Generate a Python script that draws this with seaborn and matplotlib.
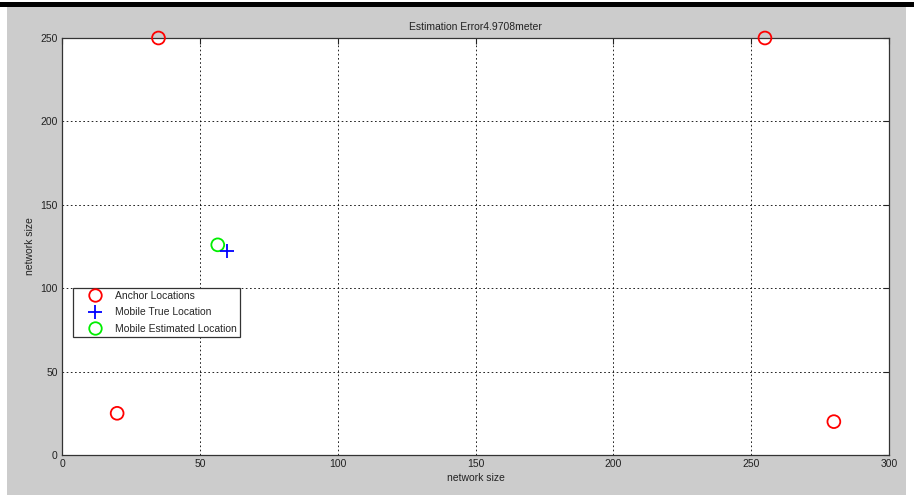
import numpy as np
import pandas as pd
import matplotlib
matplotlib.use("Agg")
import matplotlib.pyplot as plt
from matplotlib.lines import Line2D
from matplotlib.patches import Rectangle
import seaborn as sns

# Anchor node positions
anchor_x = [35, 255, 20, 280]
anchor_y = [250, 250, 25, 20]
# Mobile node: true and estimated positions
true_x = [60]
true_y = [122.5]
est_x = [56.5]
est_y = [126]
estimation_error = 4.9708

x_ticks = [0, 50, 100, 150, 200, 250, 300]
y_ticks = [0, 50, 100, 150, 200, 250]

sns.set_theme(style="white")
plt.rcParams['font.family'] = ['Liberation Sans', 'DejaVu Sans']

fig = plt.figure(figsize=(9.14, 4.95), dpi=100, facecolor="white")
W, H = 914, 495
# grey window background and dark strip across the top
fig.patches.append(Rectangle((7 / W, 0), 899 / W, (495 - 7) / H,
                             transform=fig.transFigure, facecolor="#cccccc",
                             edgecolor="none", zorder=-10))
fig.patches.append(Rectangle((0, (495 - 7) / H), 1, 5 / H,
                             transform=fig.transFigure, facecolor="black",
                             edgecolor="none", zorder=-10))

ax = fig.add_axes([62 / W, (495 - 455) / H, (889 - 62) / W, (455 - 38) / H])
ax.set_facecolor("white")

anchors = pd.DataFrame({"x": anchor_x, "y": anchor_y})
truth = pd.DataFrame({"x": true_x, "y": true_y})
est = pd.DataFrame({"x": est_x, "y": est_y})

sns.scatterplot(data=anchors, x="x", y="y", ax=ax, marker="o", s=85,
                facecolors="none", edgecolor="#ff0000", linewidth=1.3,
                clip_on=False, zorder=5)
sns.scatterplot(data=truth, x="x", y="y", ax=ax, marker="+", s=110,
                color="#0000ff", linewidth=1.3, clip_on=False, zorder=5)
sns.scatterplot(data=est, x="x", y="y", ax=ax, marker="o", s=85,
                facecolors="none", edgecolor="#00ee00", linewidth=1.3,
                clip_on=False, zorder=4)

ax.set_xlim(0, 300)
ax.set_ylim(0, 250)
ax.set_xticks(x_ticks)
ax.set_yticks(y_ticks)
ax.grid(True, color="black", linestyle=(0, (2, 3)), linewidth=0.6)
ax.tick_params(direction="in", length=4, width=0.8, labelsize=7.5,
               colors="#222222", top=True, right=True, pad=3)
for s in ax.spines.values():
    s.set_color("#333333")
    s.set_linewidth(0.9)

ax.set_xlabel("network size", fontsize=7.5, labelpad=3, color="#222222")
ax.set_ylabel("network size", fontsize=7.5, labelpad=4, color="#222222")
ax.set_title(f"Estimation Error{estimation_error}meter", fontsize=7.5,
             color="#222222", pad=6)

handles = [
    Line2D([], [], marker="o", linestyle="none", markersize=9,
           markerfacecolor="none", markeredgecolor="#ff0000", markeredgewidth=1.3),
    Line2D([], [], marker="+", linestyle="none", markersize=10,
           color="#0000ff", markeredgewidth=1.3),
    Line2D([], [], marker="o", linestyle="none", markersize=9,
           markerfacecolor="none", markeredgecolor="#00ee00", markeredgewidth=1.3),
]
labels = ["Anchor Locations", "Mobile True Location", "Mobile Estimated Location"]
leg = ax.legend(handles, labels, loc="upper left",
                bbox_to_anchor=((73 - 62) / (889 - 62), (455 - 288) / (455 - 38)),
                fontsize=7.5, frameon=True, fancybox=False, framealpha=1,
                edgecolor="#333333", borderpad=0.3, labelspacing=0.6,
                handletextpad=0.1, handlelength=3.6, borderaxespad=0)
leg.get_frame().set_linewidth(0.9)

fig.savefig("out.png", dpi=100, facecolor=fig.get_facecolor())
